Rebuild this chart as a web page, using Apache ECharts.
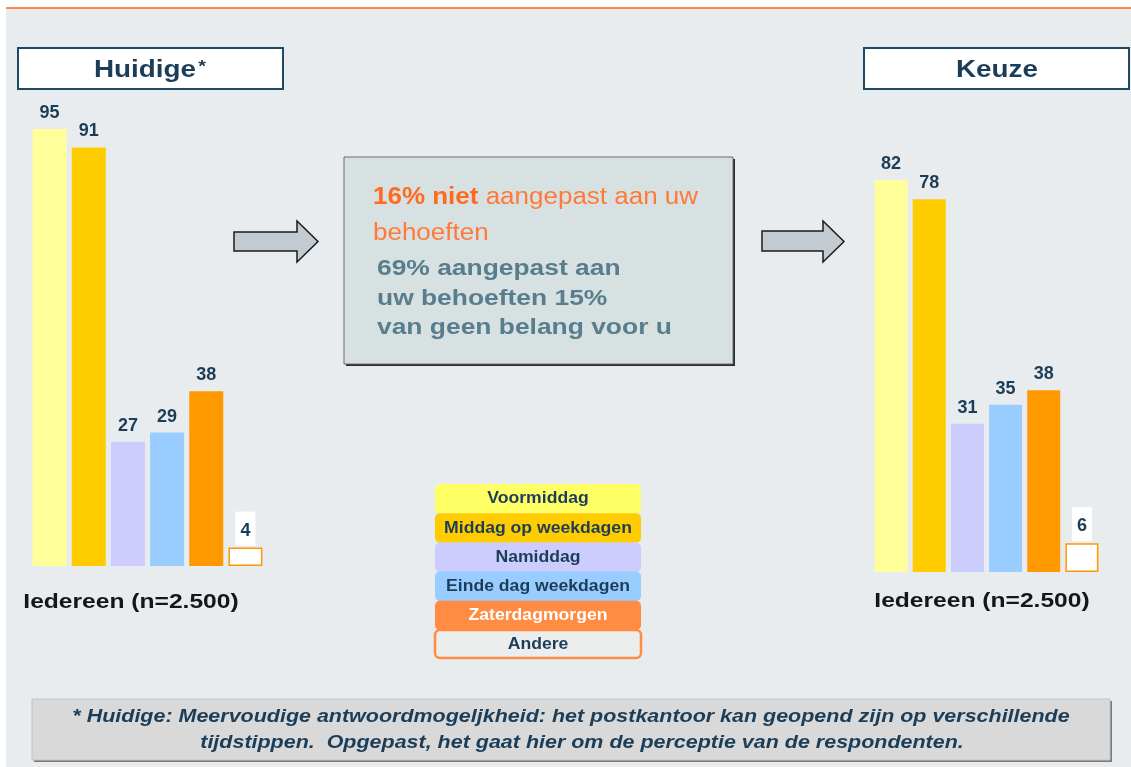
<!DOCTYPE html>
<html>
<head>
<meta charset="utf-8">
<title>Huidige / Keuze</title>
<script src="https://cdn.jsdelivr.net/npm/echarts@6/dist/echarts.min.js"></script>
<style>
  html, body { margin: 0; padding: 0; background: #fff; }
  #chart { width: 1131px; height: 767px; }
</style>
</head>
<body>
<div id="chart"></div>
<script>
// data
const categories = ['Voormiddag', 'Middag op weekdagen', 'Namiddag', 'Einde dag weekdagen', 'Zaterdagmorgen', 'Andere']
const huidigeValues = [95, 91, 27, 29, 38, 4]
const keuzeValues = [82, 78, 31, 35, 38, 6]
const groupLabel = 'Iedereen (n=2.500)'

// colours
const barColors = ['#ffff99', '#ffcc00', '#ccccff', '#99ccff', '#ff9900', '#ffffff']
const legendColors = ['#ffff66', '#ffcc00', '#ccccff', '#99ccff', '#ff8c42', '#eceeee']
const legendTextColors = ['#1b3d58', '#1b3d58', '#1b3d58', '#1b3d58', '#ffffff', '#1b3d58']

const FONT = '"Liberation Sans", Arial, sans-serif'
const NAVY = '#1b3d58'

function barData(values) {
  return values.map(function (v, i) {
    const last = i === values.length - 1
    return {
      value: v,
      itemStyle: {
        color: barColors[i],
        borderColor: last ? '#ff9900' : 'transparent',
        borderWidth: last ? 1.5 : 0
      },
      label: last ? { backgroundColor: '#ffffff', padding: [10, 5, 6, 5], distance: 2 } : {}
    }
  })
}

function barSeries(values, axisIndex, width) {
  return {
    type: 'bar',
    xAxisIndex: axisIndex,
    yAxisIndex: axisIndex,
    barWidth: width,
    data: barData(values),
    label: {
      show: true,
      position: 'top',
      distance: 7,
      color: NAVY,
      fontFamily: FONT,
      fontWeight: 'bold',
      fontSize: 18
    }
  }
}

// stretched text helper (the original slide is stretched sideways)
function txt(x, y, text, font, fill, sx, align, extra) {
  return {
    type: 'text',
    x: x,
    y: y,
    scaleX: sx,
    style: Object.assign({
      text: text,
      font: font,
      fill: fill,
      align: align || 'center',
      verticalAlign: 'middle'
    }, extra || {})
  }
}

function arrow(x0, x1, xh, yTop, yBot, sTop, sBot) {
  const ym = (yTop + yBot) / 2
  return {
    type: 'polygon',
    shape: { points: [[x0, sTop], [xh, sTop], [xh, yTop], [x1, ym], [xh, yBot], [xh, sBot], [x0, sBot]] },
    style: { fill: '#c1cbd1', stroke: '#1a1a1a', lineWidth: 1.5 }
  }
}

const graphics = []

// background
graphics.push({ type: 'rect', shape: { x: 6, y: 9, width: 1125, height: 758 }, style: { fill: '#e8ecee' } })
graphics.push({ type: 'rect', shape: { x: 6, y: 7, width: 1125, height: 2 }, style: { fill: '#ff8a4c' } })

// title boxes
graphics.push({ type: 'rect', shape: { x: 18, y: 48, width: 265, height: 41 }, style: { fill: '#ffffff', stroke: '#1c4a63', lineWidth: 2 } })
graphics.push(txt(150, 70, '{a|Huidige}{b|*}', 'bold 24px ' + FONT, NAVY, 1.16, 'center', {
  rich: {
    a: { font: 'bold 24px ' + FONT, fill: NAVY },
    b: { font: 'bold 17px ' + FONT, fill: NAVY, padding: [0, 0, 6, 2] }
  }
}))
graphics.push({ type: 'rect', shape: { x: 864, y: 48, width: 265, height: 41 }, style: { fill: '#ffffff', stroke: '#1c4a63', lineWidth: 2 } })
graphics.push(txt(997, 70, 'Keuze', 'bold 24px ' + FONT, NAVY, 1.16))

// group labels under the bars
graphics.push(txt(131, 602, groupLabel, 'bold 20px ' + FONT, '#161616', 1.23))
graphics.push(txt(982, 601, groupLabel, 'bold 20px ' + FONT, '#161616', 1.23))

// arrows
graphics.push(arrow(234, 318, 297, 221, 262, 232, 251))
graphics.push(arrow(762, 844, 823, 221, 262, 231, 251))

// middle box with shadow
graphics.push({ type: 'rect', shape: { x: 346, y: 159, width: 389, height: 207 }, style: { fill: '#2a2a2a' } })
graphics.push({ type: 'rect', shape: { x: 344, y: 157, width: 389, height: 207 }, style: { fill: '#d8e1e1', stroke: '#6a6a6a', lineWidth: 1 } })
graphics.push(txt(373, 198, '{b|16% niet} {r|aangepast aan uw}', 'bold 23px ' + FONT, '#ff6a1f', 1.13, 'left', {
  rich: {
    b: { font: 'bold 23px ' + FONT, fill: '#ff6a1f' },
    r: { font: '23px ' + FONT, fill: '#ff7a3a' }
  }
}))
graphics.push(txt(373, 234, 'behoeften', '23px ' + FONT, '#ff7a3a', 1.13, 'left'))
graphics.push(txt(377, 269, '69% aangepast aan', 'bold 22px ' + FONT, '#587e8e', 1.2, 'left'))
graphics.push(txt(377, 299, 'uw behoeften 15%', 'bold 22px ' + FONT, '#587e8e', 1.2, 'left'))
graphics.push(txt(377, 328, 'van geen belang voor u', 'bold 22px ' + FONT, '#587e8e', 1.2, 'left'))

// legend
categories.forEach(function (name, i) {
  const last = i === categories.length - 1
  const y = last ? 630 : 484 + i * 29.2
  graphics.push({
    type: 'rect',
    shape: { x: 435, y: y, width: 206, height: last ? 28 : 29.5, r: 5 },
    style: { fill: legendColors[i], stroke: last ? '#ff8c42' : null, lineWidth: last ? 2.5 : 0 }
  })
  graphics.push(txt(538, y + 15, name, 'bold 16px ' + FONT, legendTextColors[i], 1.1))
})

// footnote
graphics.push({ type: 'rect', shape: { x: 34, y: 701, width: 1078, height: 61 }, style: { fill: '#7a7a7a' } })
graphics.push({ type: 'rect', shape: { x: 32, y: 699, width: 1078, height: 61 }, style: { fill: '#d9d9d9', stroke: '#c4c4c4', lineWidth: 1 } })
graphics.push(txt(571, 717, '* Huidige: Meervoudige antwoordmogeljkheid: het postkantoor kan geopend zijn op verschillende', 'italic bold 19px ' + FONT, NAVY, 1.13))
graphics.push(txt(582, 743, 'tijdstippen.  Opgepast, het gaat hier om de perceptie van de respondenten.', 'italic bold 19px ' + FONT, NAVY, 1.13))

const chart = echarts.init(document.getElementById('chart'))
chart.setOption({
  backgroundColor: '#ffffff',
  animation: false,
  graphic: { elements: graphics },
  grid: [
    { left: 30, top: 106, width: 235, height: 460 },
    { left: 872, top: 94, width: 229, height: 478 }
  ],
  xAxis: [
    { gridIndex: 0, type: 'category', data: categories, show: false },
    { gridIndex: 1, type: 'category', data: categories, show: false }
  ],
  yAxis: [
    { gridIndex: 0, type: 'value', min: 0, max: 100, show: false },
    { gridIndex: 1, type: 'value', min: 0, max: 100, show: false }
  ],
  series: [
    barSeries(huidigeValues, 0, 34),
    barSeries(keuzeValues, 1, 33)
  ]
})
</script>
</body>
</html>
